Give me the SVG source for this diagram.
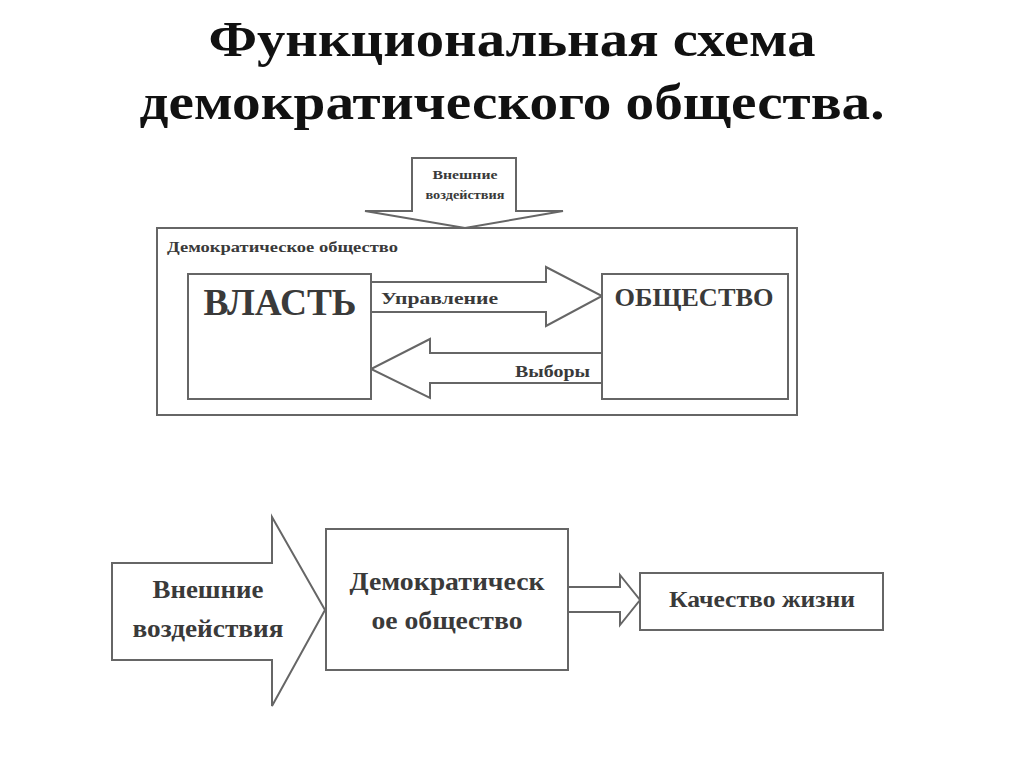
<svg xmlns="http://www.w3.org/2000/svg" width="1024" height="767" viewBox="0 0 1024 767">
<style>
.ln{fill:#fff;stroke:#666;stroke-width:2;stroke-linejoin:miter}
.t{font-family:"Liberation Serif","Times New Roman",serif;font-weight:bold;fill:#3a3a3a}
.title{font-family:"Liberation Serif","Times New Roman",serif;font-weight:bold;fill:#111;font-size:51px}
</style>
<rect width="1024" height="767" fill="#fff"/>
<g id="title">
<text class="title" x="512" y="56" text-anchor="middle" textLength="607" lengthAdjust="spacingAndGlyphs">Функциональная схема</text>
<text class="title" x="512" y="119" text-anchor="middle" textLength="745" lengthAdjust="spacingAndGlyphs">демократического общества.</text>
</g>
<g id="outer">
<rect class="ln" x="157" y="228" width="640" height="187"/>
<text class="t" x="167" y="252" font-size="14" textLength="231" lengthAdjust="spacingAndGlyphs">Демократическое общество</text>
</g>
<g id="connectors">
<path id="ext-top" class="ln" d="M412,158 H516 V211 H563 L465,228 L365,211 H412 Z"/>
<path id="upr" class="ln" d="M371,282 H546 V267 L602,296 L546,326 V312 H371"/>
<path id="vyb" class="ln" d="M602,353 H430 V339 L371,369 L430,398 V383 H602"/>
<path id="ext-bottom" class="ln" d="M112,563 H272 V517 L325,610 L272,706 V660 H112 Z"/>
<path id="out" class="ln" d="M568,587 H620 V575 L640,600 L620,625 V612 H568"/>
</g>
<g id="ext-top-label">
<text class="t" x="465" y="179" font-size="13" text-anchor="middle" textLength="65" lengthAdjust="spacingAndGlyphs">Внешние</text>
<text class="t" x="465" y="199" font-size="13" text-anchor="middle" textLength="79" lengthAdjust="spacingAndGlyphs">воздействия</text>
</g>
<g id="vlast">
<rect class="ln" x="188" y="274" width="183" height="125"/>
<text class="t" x="280" y="315" font-size="37" text-anchor="middle" textLength="153" lengthAdjust="spacingAndGlyphs">ВЛАСТЬ</text>
</g>
<g id="obshchestvo">
<rect class="ln" x="602" y="274" width="186" height="125"/>
<text class="t" x="694" y="306" font-size="25" text-anchor="middle" textLength="159" lengthAdjust="spacingAndGlyphs">ОБЩЕСТВО</text>
</g>
<g id="labels">
<text class="t" x="381" y="304" font-size="17" textLength="117" lengthAdjust="spacingAndGlyphs">Управление</text>
<text class="t" x="590" y="377" font-size="17" text-anchor="end" textLength="75" lengthAdjust="spacingAndGlyphs">Выборы</text>
</g>
<g id="ext-bottom-label">
<text class="t" x="208" y="598" font-size="25" text-anchor="middle" textLength="111" lengthAdjust="spacingAndGlyphs">Внешние</text>
<text class="t" x="208" y="637" font-size="25" text-anchor="middle" textLength="151" lengthAdjust="spacingAndGlyphs">воздействия</text>
</g>
<g id="demsoc">
<rect class="ln" x="326" y="529" width="242" height="141"/>
<text class="t" x="447" y="590" font-size="25" text-anchor="middle" textLength="195" lengthAdjust="spacingAndGlyphs">Демократическ</text>
<text class="t" x="447" y="629" font-size="25" text-anchor="middle" textLength="151" lengthAdjust="spacingAndGlyphs">ое общество</text>
</g>
<g id="quality">
<rect class="ln" x="640" y="573" width="243" height="57"/>
<text class="t" x="762" y="607" font-size="23" text-anchor="middle" textLength="186" lengthAdjust="spacingAndGlyphs">Качество жизни</text>
</g>
</svg>
